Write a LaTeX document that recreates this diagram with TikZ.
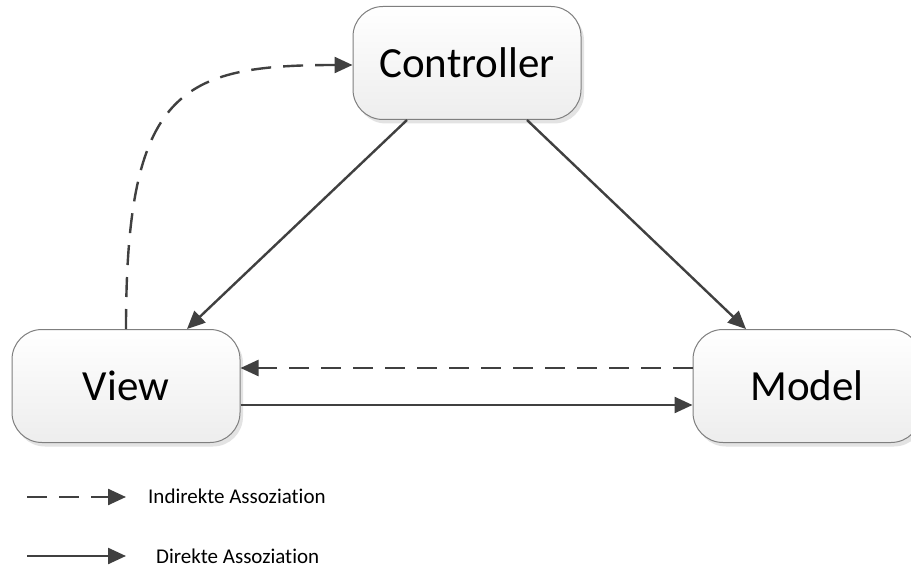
\documentclass[tikz,border=0pt]{standalone}
\usepackage{fontspec}
\setmainfont[Ligatures=NoCommon]{Carlito}
\usetikzlibrary{arrows.meta,shadows}
\definecolor{linegray}{HTML}{404040}
\definecolor{boxborder}{HTML}{7F7F7F}
\tikzset{
  mvcbox/.style={draw=boxborder, line width=1pt, rounded corners=30pt,
    top color=white, bottom color=black!7,
    minimum width=228pt, minimum height=113pt, inner sep=0pt,
    font=\fontsize{43}{47}\selectfont,
    drop shadow={shadow xshift=3pt, shadow yshift=-4pt, fill=black!18, opacity=0.6}},
  link/.style={draw=linegray, line width=2.4pt,
    -{Triangle[length=18pt,width=16pt]}},
  indirect/.style={link, dash pattern=on 20pt off 12pt},
  legendtext/.style={anchor=base west, inner sep=0pt,
    font=\fontsize{21}{25}\selectfont}
}
\begin{document}
\begin{tikzpicture}[x=1pt,y=-1pt]
  \clip (0,0) rectangle (911,567);
  \fill[white] (0,0) rectangle (911,567);

  % the three MVC components
  \node[mvcbox] (ctrl)  at (467,63)  {Controller};
  \node[mvcbox] (view)  at (126,386) {View};
  \node[mvcbox] (model) at (807,386) {Model};

  % direct associations
  \draw[link] ([xshift=-60pt]ctrl.south) -- ([xshift=61pt]view.north);
  \draw[link] ([xshift=60pt]ctrl.south) -- ([xshift=-61pt]model.north);
  \draw[link] ([yshift=-19pt]view.east) -- ([yshift=-19pt]view.east -| model.west);

  % indirect associations
  \draw[indirect] ([yshift=18pt]model.west) -- ([yshift=18pt]model.west -| view.east);
  \draw[indirect] (view.north) .. controls (126,90) and (180,65) .. ([yshift=-2pt]ctrl.west);

  % legend
  \coordinate (la1) at (27,497);
  \coordinate (la2) at (126,497);
  \coordinate (lb1) at (27,556);
  \coordinate (lb2) at (126,556);
  \draw[indirect] (la1) -- (la2);
  \draw[link] (lb1) -- (lb2);
  \node[legendtext] (lta) at (148,503) {Indirekte Assoziation};
  \node[legendtext] (ltb) at (156,563) {Direkte Assoziation};
\end{tikzpicture}
\end{document}
